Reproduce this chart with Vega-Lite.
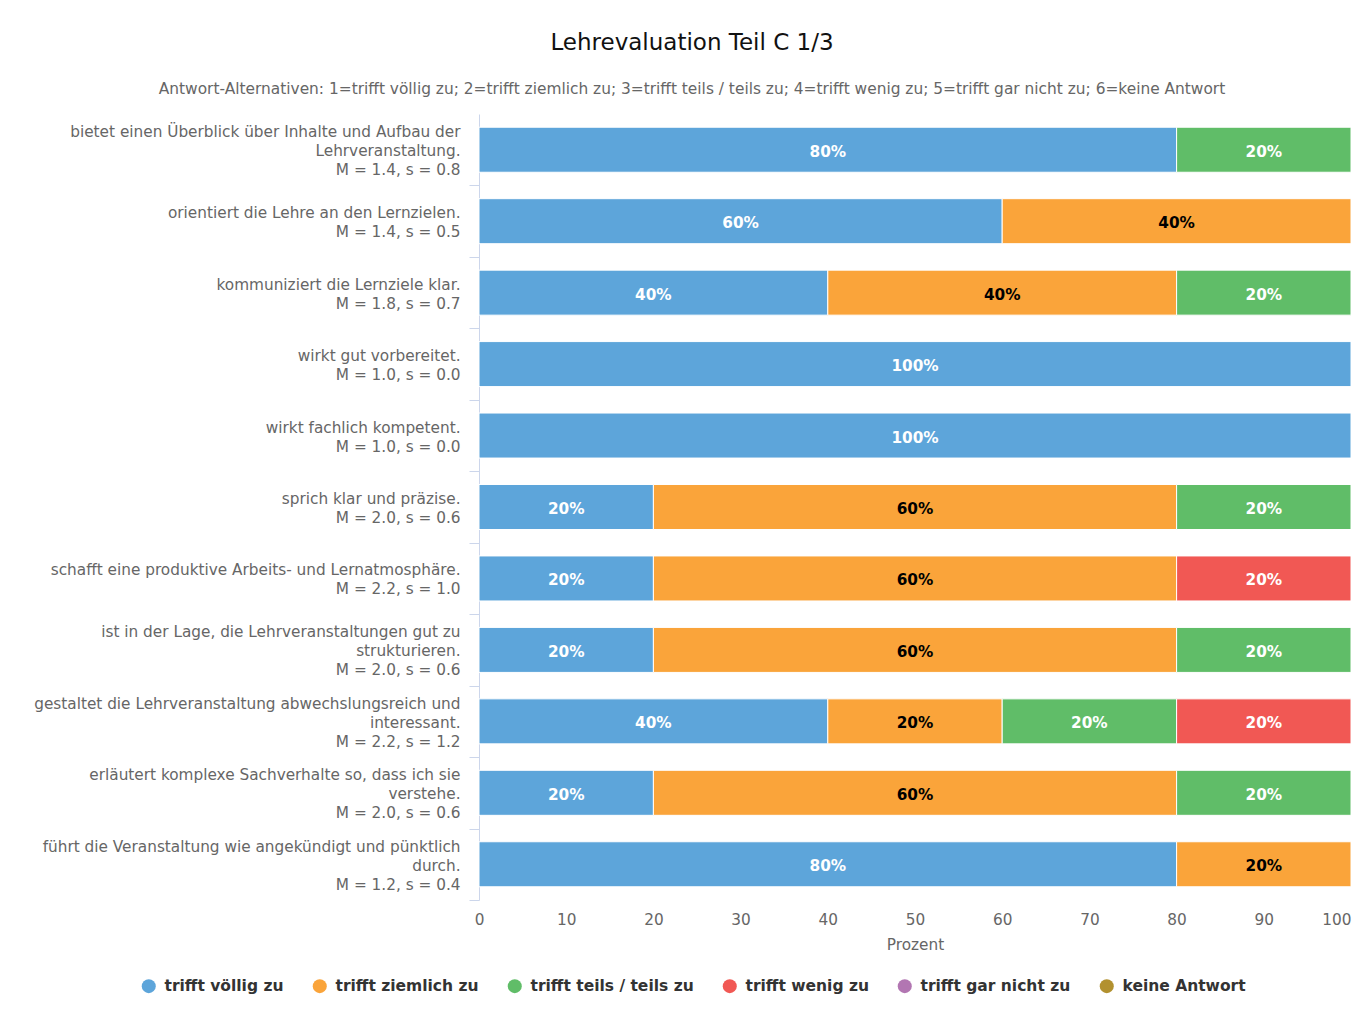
{
  "$schema": "https://vega.github.io/schema/vega-lite/v6.json",
  "autosize": "none",
  "width": 872,
  "height": 786,
  "padding": {"left": 479, "top": 114, "right": 12, "bottom": 121},
  "background": "#ffffff",
  "title": {
    "text": "Lehrevaluation Teil C 1/3",
    "subtitle": "Antwort-Alternativen: 1=trifft völlig zu; 2=trifft ziemlich zu; 3=trifft teils / teils zu; 4=trifft wenig zu; 5=trifft gar nicht zu; 6=keine Antwort",
    "anchor": "middle",
    "frame": "group",
    "dx": -223,
    "offset": 17,
    "font": "DejaVu Sans",
    "fontSize": 23,
    "fontWeight": "normal",
    "color": "#111111",
    "subtitleFont": "DejaVu Sans",
    "subtitleFontSize": 15.4,
    "subtitleColor": "#666666",
    "subtitlePadding": 27
  },
  "config": {
    "view": {"stroke": null},
    "font": "DejaVu Sans"
  },
  "data": {
    "values": [
      {"item": "bietet einen Überblick über Inhalte und Aufbau der|Lehrveranstaltung.|M = 1.4, s = 0.8", "answer": "trifft völlig zu", "code": 1, "pct": 80},
      {"item": "bietet einen Überblick über Inhalte und Aufbau der|Lehrveranstaltung.|M = 1.4, s = 0.8", "answer": "trifft teils / teils zu", "code": 3, "pct": 20},
      {"item": "orientiert die Lehre an den Lernzielen.|M = 1.4, s = 0.5", "answer": "trifft völlig zu", "code": 1, "pct": 60},
      {"item": "orientiert die Lehre an den Lernzielen.|M = 1.4, s = 0.5", "answer": "trifft ziemlich zu", "code": 2, "pct": 40},
      {"item": "kommuniziert die Lernziele klar.|M = 1.8, s = 0.7", "answer": "trifft völlig zu", "code": 1, "pct": 40},
      {"item": "kommuniziert die Lernziele klar.|M = 1.8, s = 0.7", "answer": "trifft ziemlich zu", "code": 2, "pct": 40},
      {"item": "kommuniziert die Lernziele klar.|M = 1.8, s = 0.7", "answer": "trifft teils / teils zu", "code": 3, "pct": 20},
      {"item": "wirkt gut vorbereitet.|M = 1.0, s = 0.0", "answer": "trifft völlig zu", "code": 1, "pct": 100},
      {"item": "wirkt fachlich kompetent.|M = 1.0, s = 0.0", "answer": "trifft völlig zu", "code": 1, "pct": 100},
      {"item": "sprich klar und präzise.|M = 2.0, s = 0.6", "answer": "trifft völlig zu", "code": 1, "pct": 20},
      {"item": "sprich klar und präzise.|M = 2.0, s = 0.6", "answer": "trifft ziemlich zu", "code": 2, "pct": 60},
      {"item": "sprich klar und präzise.|M = 2.0, s = 0.6", "answer": "trifft teils / teils zu", "code": 3, "pct": 20},
      {"item": "schafft eine produktive Arbeits- und Lernatmosphäre.|M = 2.2, s = 1.0", "answer": "trifft völlig zu", "code": 1, "pct": 20},
      {"item": "schafft eine produktive Arbeits- und Lernatmosphäre.|M = 2.2, s = 1.0", "answer": "trifft ziemlich zu", "code": 2, "pct": 60},
      {"item": "schafft eine produktive Arbeits- und Lernatmosphäre.|M = 2.2, s = 1.0", "answer": "trifft wenig zu", "code": 4, "pct": 20},
      {"item": "ist in der Lage, die Lehrveranstaltungen gut zu|strukturieren.|M = 2.0, s = 0.6", "answer": "trifft völlig zu", "code": 1, "pct": 20},
      {"item": "ist in der Lage, die Lehrveranstaltungen gut zu|strukturieren.|M = 2.0, s = 0.6", "answer": "trifft ziemlich zu", "code": 2, "pct": 60},
      {"item": "ist in der Lage, die Lehrveranstaltungen gut zu|strukturieren.|M = 2.0, s = 0.6", "answer": "trifft teils / teils zu", "code": 3, "pct": 20},
      {"item": "gestaltet die Lehrveranstaltung abwechslungsreich und|interessant.|M = 2.2, s = 1.2", "answer": "trifft völlig zu", "code": 1, "pct": 40},
      {"item": "gestaltet die Lehrveranstaltung abwechslungsreich und|interessant.|M = 2.2, s = 1.2", "answer": "trifft ziemlich zu", "code": 2, "pct": 20},
      {"item": "gestaltet die Lehrveranstaltung abwechslungsreich und|interessant.|M = 2.2, s = 1.2", "answer": "trifft teils / teils zu", "code": 3, "pct": 20},
      {"item": "gestaltet die Lehrveranstaltung abwechslungsreich und|interessant.|M = 2.2, s = 1.2", "answer": "trifft wenig zu", "code": 4, "pct": 20},
      {"item": "erläutert komplexe Sachverhalte so, dass ich sie|verstehe.|M = 2.0, s = 0.6", "answer": "trifft völlig zu", "code": 1, "pct": 20},
      {"item": "erläutert komplexe Sachverhalte so, dass ich sie|verstehe.|M = 2.0, s = 0.6", "answer": "trifft ziemlich zu", "code": 2, "pct": 60},
      {"item": "erläutert komplexe Sachverhalte so, dass ich sie|verstehe.|M = 2.0, s = 0.6", "answer": "trifft teils / teils zu", "code": 3, "pct": 20},
      {"item": "führt die Veranstaltung wie angekündigt und pünktlich|durch.|M = 1.2, s = 0.4", "answer": "trifft völlig zu", "code": 1, "pct": 80},
      {"item": "führt die Veranstaltung wie angekündigt und pünktlich|durch.|M = 1.2, s = 0.4", "answer": "trifft ziemlich zu", "code": 2, "pct": 20}
    ]
  },
  "encoding": {
    "y": {
      "field": "item",
      "type": "nominal",
      "sort": null,
      "scale": {"paddingInner": 0.37, "paddingOuter": 0.185},
      "axis": {
        "title": null,
        "labelExpr": "split(datum.label, '|')",
        "labelFont": "DejaVu Sans",
        "labelFontSize": 15.3,
        "labelColor": "#666666",
        "labelLineHeight": 19,
        "labelLimit": 600,
        "labelPadding": 9,
        "tickOffset": 35.7,
        "labelOffset": {"condition": {"test": "length(split(datum.label, '|')) == 3", "value": -53.7}, "value": -44.2},
        "domainColor": "#ccd6eb",
        "tickColor": "#ccd6eb",
        "tickSize": 10,
        "labelBaseline": "middle"
      }
    }
  },
  "layer": [
    {
      "mark": {"type": "bar", "stroke": "#ffffff", "strokeWidth": 1},
      "encoding": {
        "x": {
          "field": "pct",
          "type": "quantitative",
          "stack": "zero",
          "scale": {"domain": [0, 100], "nice": false},
          "axis": {
            "title": "Prozent",
            "values": [0, 10, 20, 30, 40, 50, 60, 70, 80, 90, 100],
            "domain": false,
            "ticks": false,
            "grid": false,
            "labelFont": "DejaVu Sans",
            "labelFontSize": 15.3,
            "labelColor": "#666666",
            "labelPadding": 12,
            "labelAlign": {"condition": {"test": "datum.value == 100", "value": "right"}, "value": "center"},
            "titleFont": "DejaVu Sans",
            "titleFontSize": 15.3,
            "titleFontWeight": "normal",
            "titleColor": "#666666",
            "titlePadding": 10
          }
        },
        "color": {
          "field": "answer",
          "type": "nominal",
          "scale": {
            "domain": ["trifft völlig zu", "trifft ziemlich zu", "trifft teils / teils zu", "trifft wenig zu", "trifft gar nicht zu", "keine Antwort"],
            "range": ["#5DA5DA", "#FAA43A", "#60BD68", "#F15854", "#B276B2", "#B2912F"]
          },
          "legend": {
            "title": null,
            "orient": "none",
            "direction": "horizontal",
            "legendX": -338,
            "legendY": 864,
            "symbolType": "circle",
            "symbolSize": 196,
            "symbolOpacity": 1,
            "symbolStrokeWidth": 0,
            "labelFont": "DejaVu Sans",
            "labelFontSize": 15.5,
            "labelFontWeight": "bold",
            "labelColor": "#333333",
            "labelOffset": 8,
            "columnPadding": 28,
            "labelLimit": 400
          }
        },
        "order": {"field": "code", "type": "quantitative"}
      }
    },
    {
      "transform": [
        {"stack": "pct", "groupby": ["item"], "sort": [{"field": "code", "order": "ascending"}], "as": ["x0", "x1"]},
        {"fold": ["x0", "x1"], "as": ["edge", "xv"]}
      ],
      "mark": {
        "type": "text",
        "font": "DejaVu Sans",
        "fontSize": 15.3,
        "fontWeight": "bold",
        "align": "center",
        "baseline": "middle",
        "dy": 2,
        "text": {"expr": "datum.pct + '%'"}
      },
      "encoding": {
        "x": {"aggregate": "mean", "field": "xv", "type": "quantitative", "stack": null},
        "detail": [{"field": "code", "type": "nominal"}, {"field": "pct", "type": "quantitative"}],
        "color": {"condition": {"test": "datum.code == 2", "value": "#000000"}, "value": "#ffffff"}
      }
    }
  ]
}
